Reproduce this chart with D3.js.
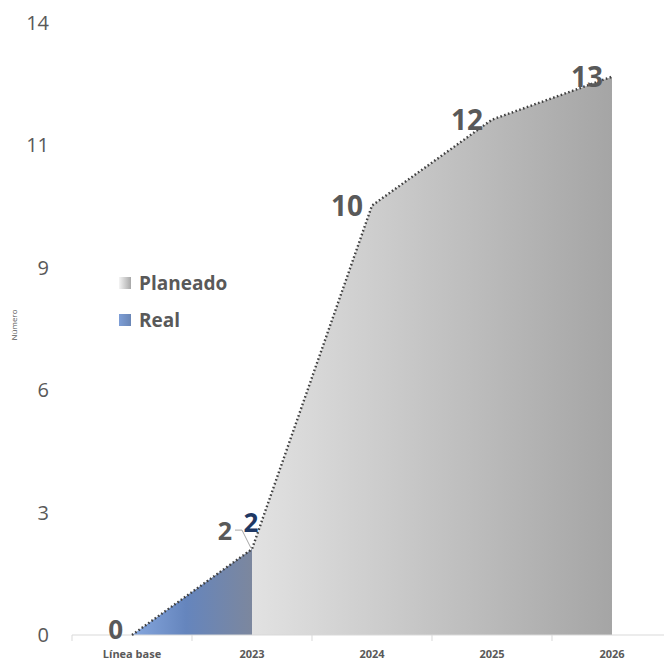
<!DOCTYPE html>
<html><head><meta charset="utf-8">
<script src="https://cdn.jsdelivr.net/npm/d3@7"></script>
<style>body{margin:0;background:#fff}svg{display:block}</style>
</head><body>
<svg id="c" width="664" height="660"></svg>
<script>
const categories = ["Línea base", "2023", "2024", "2025", "2026"];
const planeado = [0, 2, 10, 12, 13];
const real = [0, 2];
const yTickValues = [0, 2.85, 5.7, 8.55, 11.4, 14.25];
const yTickLabels = ["0", "3", "6", "9", "11", "14"];
const legendItems = ["Planeado", "Real"];

const svg = d3.select("#c");
const font = "'Open Sans', 'DejaVu Sans', sans-serif";
const x = d3.scaleBand().domain(categories).range([72, 672]).padding(0);
const cx = d => x(d) + x.bandwidth() / 2;
const y = d3.scaleLinear().domain([0, 14.25]).range([635, 23]);

const defs = svg.append("defs");
const gg = defs.append("linearGradient").attr("id", "gGray").attr("gradientUnits", "userSpaceOnUse")
  .attr("x1", 132).attr("x2", 612).attr("y1", 0).attr("y2", 0);
gg.append("stop").attr("offset", "0%").attr("stop-color", "#f0f0f0");
gg.append("stop").attr("offset", "25%").attr("stop-color", "#e2e2e2");
gg.append("stop").attr("offset", "100%").attr("stop-color", "#a5a5a5");
const gb = defs.append("linearGradient").attr("id", "gBlue").attr("gradientUnits", "userSpaceOnUse")
  .attr("x1", 132).attr("x2", 252).attr("y1", 0).attr("y2", 0);
gb.append("stop").attr("offset", "0%").attr("stop-color", "#86a7de");
gb.append("stop").attr("offset", "45%").attr("stop-color", "#6585bd");
gb.append("stop").attr("offset", "100%").attr("stop-color", "#7c879e");
const lg = defs.append("linearGradient").attr("id", "lGray");
lg.append("stop").attr("offset", "0%").attr("stop-color", "#f4f4f4");
lg.append("stop").attr("offset", "100%").attr("stop-color", "#a8a8a8");
const lb = defs.append("linearGradient").attr("id", "lBlue");
lb.append("stop").attr("offset", "0%").attr("stop-color", "#7d9ed6");
lb.append("stop").attr("offset", "100%").attr("stop-color", "#6a86b6");

// y tick labels
svg.append("g").selectAll("text").data(yTickValues).join("text")
  .attr("x", 49).attr("y", d => y(d) + 7).attr("text-anchor", "end")
  .attr("font-family", font).attr("font-size", 20).attr("fill", "#595959")
  .text((d, i) => yTickLabels[i]);

// y title
svg.append("text").attr("transform", "translate(17,325) rotate(-90)")
  .attr("text-anchor", "middle").attr("font-family", font).attr("font-size", 8)
  .attr("fill", "#595959").text("Número");

// areas
const pData = categories.map((c, i) => ({c, v: planeado[i]}));
const rData = real.map((v, i) => ({c: categories[i], v}));
const area = d3.area().x(d => cx(d.c)).y0(y(0)).y1(d => y(d.v));
svg.append("path").attr("d", area(pData)).attr("fill", "url(#gGray)");
svg.append("path").attr("d", area(rData)).attr("fill", "url(#gBlue)");

// x axis
svg.append("line").attr("x1", 72).attr("x2", 664).attr("y1", y(0)).attr("y2", y(0))
  .attr("stroke", "#d9d9d9").attr("stroke-width", 1);
svg.append("g").selectAll("line").data(categories).join("line")
  .attr("x1", d => x(d)).attr("x2", d => x(d)).attr("y1", y(0)).attr("y2", y(0) + 6)
  .attr("stroke", "#d9d9d9");
svg.append("g").selectAll("text").data(categories).join("text")
  .attr("x", d => cx(d)).attr("y", 658).attr("text-anchor", "middle")
  .attr("font-family", font).attr("font-size", 11).attr("font-weight", "bold")
  .attr("fill", "#595959").text(d => d);

// dotted line
const line = d3.line().x(d => cx(d.c)).y(d => y(d.v));
svg.append("path").attr("d", line(pData)).attr("fill", "none")
  .attr("stroke", "#404040").attr("stroke-width", 2.4).attr("stroke-dasharray", "1.6,2.4");

// data labels for planeado
svg.append("g").selectAll("text").data(pData).join("text")
  .attr("x", (d, i) => i === 1 ? cx(d.c) - 20 : cx(d.c) - 9)
  .attr("y", (d, i) => i === 1 ? y(d.v) - 9 : (i === 0 ? y(d.v) + 4 : y(d.v) + 10))
  .attr("text-anchor", "end").attr("font-family", font)
  .attr("font-size", (d, i) => i === 1 ? 25 : (i === 0 ? 26 : 28))
  .attr("font-weight", "bold").attr("fill", "#595959").text(d => d.v);
// leader line for planeado 2023 label
svg.append("path")
  .attr("d", `M${cx(categories[1]) - 17},${y(planeado[1]) - 19} h7 L${cx(categories[1]) - 1},${y(planeado[1]) - 1}`)
  .attr("fill", "none").attr("stroke", "#a6a6a6").attr("stroke-width", 1);

// data label for real
svg.append("g").selectAll("text").data(rData.slice(1)).join("text")
  .attr("x", d => cx(d.c) - 1).attr("y", d => y(d.v) - 17)
  .attr("text-anchor", "middle").attr("font-family", font).attr("font-size", 26)
  .attr("font-weight", "bold").attr("fill", "#1f3864").text(d => d.v);

// legend
const leg = svg.append("g");
legendItems.forEach((name, i) => {
  const yy = 277 + i * 37;
  leg.append("rect").attr("x", 119).attr("y", yy).attr("width", 12).attr("height", 12)
    .attr("fill", i === 0 ? "url(#lGray)" : "url(#lBlue)");
  leg.append("text").attr("x", 139).attr("y", yy + 13).attr("font-family", font)
    .attr("font-size", 19).attr("font-weight", "bold").attr("fill", "#595959").text(name);
});
</script>
</body></html>
